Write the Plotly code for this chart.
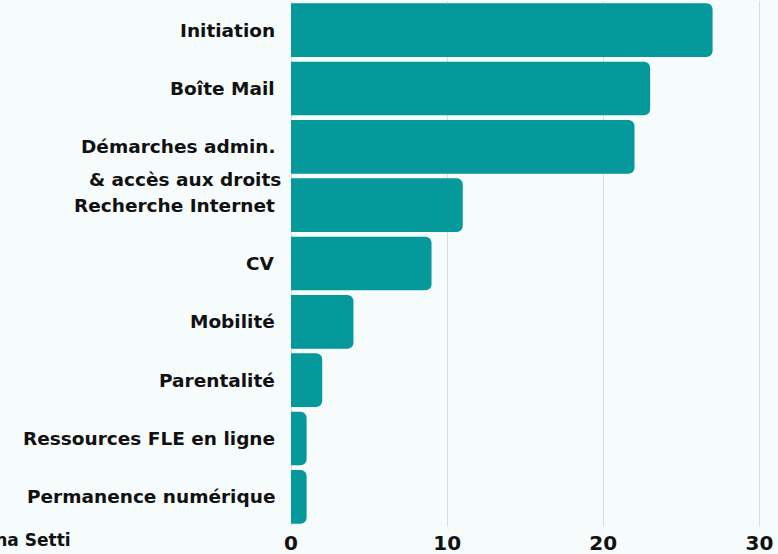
import plotly.graph_objects as go

categories = ["Initiation", "Boîte Mail", "Démarches admin.\n& accès aux droits",
              "Recherche Internet", "CV", "Mobilité", "Parentalité",
              "Ressources FLE en ligne", "Permanence numérique"]
values = [27, 23, 22, 11, 9, 4, 2, 1, 1]
x_ticks = [0, 10, 20, 30]
credit = "Anna Setti"

BG = "#f6fbfb"
BAR = "#05999b"
FONT = dict(family="DejaVu Sans", size=18.5, color="#111111", weight="bold")

W, H = 778, 554
ML, MR, MT, MB = 291, 17, 1, 28

fig = go.Figure(go.Bar(
    x=values, y=list(range(len(categories))), orientation="h",
    marker=dict(color=BAR, line=dict(width=0)),
    hoverinfo="skip",
))

annotations = []
for i, cat in enumerate(categories):
    for j, line in enumerate(cat.split("\n")):
        annotations.append(dict(
            x=0, xref="paper", xanchor="right", xshift=-14 + 6 * j,
            y=i, yref="y", yanchor="middle", yshift=-33 * j,
            text=line, showarrow=False, font=FONT,
        ))
annotations.append(dict(
    x=(73 - ML) / (W - ML - MR), xref="paper", xanchor="right",
    y=-(540 - (H - MB)) / (H - MT - MB), yref="paper", yanchor="middle",
    text=credit, showarrow=False, font=dict(FONT, size=17),
))

fig.update_layout(
    width=W, height=H,
    paper_bgcolor=BG, plot_bgcolor=BG,
    margin=dict(l=ML, r=MR, t=MT, b=MB, autoexpand=False),
    bargap=0.08, barcornerradius=6,
    showlegend=False,
    annotations=annotations,
    xaxis=dict(range=[0, 30.1], tickvals=x_ticks, showgrid=True,
               gridcolor="#dcdcdc", gridwidth=1, zeroline=True,
               zerolinecolor="#dcdcdc", zerolinewidth=1,
               tickfont=dict(family="DejaVu Sans", size=20, color="#111111", weight="bold"),
               ticks="", ticklabelstandoff=3, showline=False, fixedrange=True),
    yaxis=dict(range=[len(categories) - 0.5, -0.5], showticklabels=False,
               showgrid=False, zeroline=False, showline=False, fixedrange=True),
)

fig.write_html("out.html", config={"displayModeBar": False},
               post_script="document.body.style.margin='0';document.body.style.overflow='hidden';")
